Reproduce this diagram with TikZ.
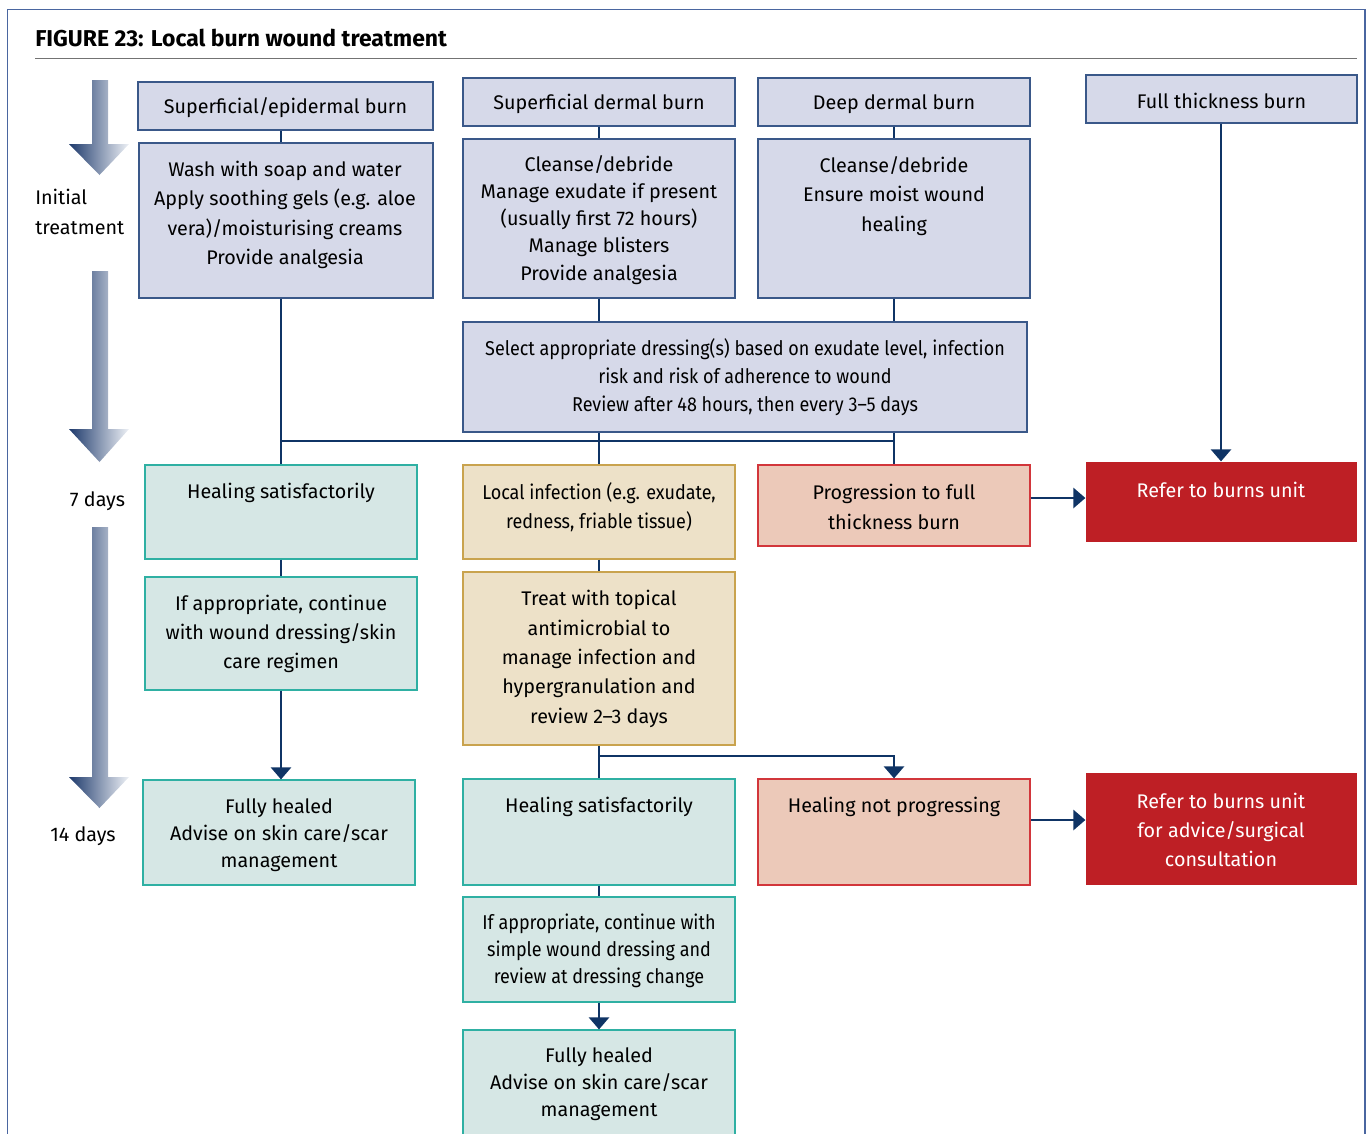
\documentclass[tikz,border=0pt]{standalone}
\usepackage{fontspec}
\setmainfont{Fira Sans}
\newfontfamily\condfont[FakeStretch=0.9]{Fira Sans}
\usetikzlibrary{fit,arrows.meta}
\definecolor{navy}{HTML}{0F3465}
\definecolor{bluefill}{HTML}{D6D9E9}
\definecolor{blueline}{HTML}{3A5889}
\definecolor{tealfill}{HTML}{D6E7E5}
\definecolor{tealline}{HTML}{2FB0A3}
\definecolor{beigefill}{HTML}{EDE1C8}
\definecolor{beigeline}{HTML}{C9A34E}
\definecolor{pinkfill}{HTML}{ECC9B9}
\definecolor{pinkline}{HTML}{D2363B}
\definecolor{redfill}{HTML}{BE1F25}
\definecolor{framecol}{HTML}{4A66A0}
\definecolor{gdark}{HTML}{1E3A6C}
\definecolor{glight}{HTML}{EEF1F6}
\tikzset{
  x=0.75pt, y=-0.75pt,
  boxbase/.style={inner sep=0pt, line width=0.9pt},
  bluebox/.style={boxbase, draw=blueline, fill=bluefill},
  tealbox/.style={boxbase, draw=tealline, fill=tealfill},
  beigebox/.style={boxbase, draw=beigeline, fill=beigefill},
  pinkbox/.style={boxbase, draw=pinkline, fill=pinkfill},
  redbox/.style={boxbase, fill=redfill},
  txt/.style={align=center, inner sep=0pt, yshift=-1.5pt, font=\fontsize{14.8}{22}\selectfont},
  ctxt/.style={align=center, inner sep=0pt, yshift=-1.5pt, font=\condfont\fontsize{15}{21}\selectfont},
  conn/.style={draw=navy, line width=1.9pt},
  arr/.style={conn, -{Triangle[width=15pt,length=9pt]}},
  bigarrow/.style={left color=gdark, right color=glight}
}
\begin{document}
\begin{tikzpicture}
\useasboundingbox (0,0) rectangle (1370,1133);
\clip (0,0) rectangle (1370,1133);
% frame
\draw[framecol, line width=0.9pt] (7.5,1140) -- (7.5,9.5) -- (1365,9.5) -- (1365,1140);
\node[anchor=base west, inner sep=0pt, font=\bfseries\fontsize{17.2}{20}\selectfont] (title) at (35,46) {FIGURE 23: Local burn wound treatment};
\coordinate (rl) at (35,58.5);
\coordinate (rr) at (1357,58.5);
\draw[black!55, line width=1.1pt] (rl) -- (rr);

% big gradient arrows
\shade[bigarrow] (92,80) -- (108,80) -- (108,144) -- (129,144) -- (99.5,175) -- (69,144) -- (92,144) -- cycle;
\shade[bigarrow] (92,271) -- (108,271) -- (108,429) -- (129,429) -- (99.5,462) -- (69,429) -- (92,429) -- cycle;
\shade[bigarrow] (92,527) -- (108,527) -- (108,777) -- (129,777) -- (99.5,808) -- (69,777) -- (92,777) -- cycle;

\node[anchor=west, align=left, inner sep=0pt, yshift=-1.5pt, font=\fontsize{14.8}{22}\selectfont] (lab1) at (35,210) {Initial\\treatment};
\node[txt] (lab2) at (97.5,499) {7 days};
\node[txt] (lab3) at (83,834) {14 days};

% column coordinates
\coordinate (c1) at (281,0);
\coordinate (c2) at (599,0);
\coordinate (c3) at (894,0);
\coordinate (c4) at (1221,0);

% top headers
\node[bluebox, fit={(138,82) (433,130)}] (h1) {};
\node[bluebox, fit={(463,78) (735,126)}] (h2) {};
\node[bluebox, fit={(758,78) (1030,126)}] (h3) {};
\node[bluebox, fit={(1086,75) (1357,123)}] (h4) {};
\node[txt] (th1) at (h1) {Superficial/epidermal burn};
\node[txt] (th2) at (h2) {Superficial dermal burn};
\node[txt] (th3) at (h3) {Deep dermal burn};
\node[txt] (th4) at (h4) {Full thickness burn};

% initial treatment bodies
\node[bluebox, fit={(139,143) (433,298)}] (b1) {};
\node[bluebox, fit={(463,139) (735,298)}] (b2) {};
\node[bluebox, fit={(758,139) (1030,298)}] (b3) {};
\node[txt] (tb1) at (285,213) {Wash with soap and water\\Apply soothing gels (e.g. aloe\\vera)/moisturising creams\\Provide analgesia};
\node[txt, font=\fontsize{14.8}{20.3}\selectfont] (tb2) at (599,218) {Cleanse/debride\\Manage exudate if present\\(usually first 72 hours)\\Manage blisters\\Provide analgesia};
\node[txt] (tb3) at (894,194) {Cleanse/debride\\Ensure moist wound\\healing};

\node[bluebox, fit={(463,322) (1027,432)}] (sel) {};
\node[ctxt] (tsel) at (745,375) {Select appropriate dressing(s) based on exudate level, infection\\risk and risk of adherence to wound\\Review after 48 hours, then every 3–5 days};

% 7 days row
\node[tealbox, fit={(145,465) (417,559)}] (hs1) {};
\node[beigebox, fit={(463,465) (735,559)}] (li) {};
\node[pinkbox, fit={(758,465) (1030,546)}] (pr) {};
\node[redbox, fit={(1086,462) (1357,542)}] (rb1) {};
\node[txt] (ths1) at (281,491) {Healing satisfactorily};
\node[ctxt, font=\condfont\fontsize{15}{22}\selectfont] (tli) at (599,505) {Local infection (e.g. exudate,\\redness, friable tissue)};
\node[txt] (tpr) at (894,505) {Progression to full\\thickness burn};
\node[txt, text=white] (trb1) at (1221,488) {Refer to burns unit};

\node[tealbox, fit={(145,577) (417,690)}] (ia1) {};
\node[beigebox, fit={(463,572) (735,745)}] (tr) {};
\node[txt] (tia1) at (281,632) {If appropriate, continue\\with wound dressing/skin\\care regimen};
\node[txt] (ttr) at (599,657) {Treat with topical\\antimicrobial to\\manage infection and\\hypergranulation and\\review 2–3 days};

% 14 days row
\node[tealbox, fit={(143,780) (415,885)}] (fh1) {};
\node[tealbox, fit={(463,779) (735,885)}] (hs2) {};
\node[pinkbox, fit={(758,779) (1030,885)}] (hnp) {};
\node[redbox, fit={(1086,773) (1357,885)}] (rb2) {};
\node[txt, font=\fontsize{14.8}{20.3}\selectfont] (tfh1) at (279,833) {Fully healed\\Advise on skin care/scar\\management};
\node[txt] (ths2) at (599,805) {Healing satisfactorily};
\node[txt] (thnp) at (894,805) {Healing not progressing};
\node[txt, text=white] (trb2) at (1221,828) {Refer to burns unit\\for advice/surgical\\consultation};

\node[tealbox, fit={(463,897) (735,1002)}] (ia2) {};
\node[tealbox, fit={(463,1030) (735,1145)}] (fh2) {};
\node[ctxt, font=\condfont\fontsize{15}{20.3}\selectfont] (tia2) at (599,949) {If appropriate, continue with\\simple wound dressing and\\review at dressing change};
\node[txt, font=\fontsize{14.8}{20.3}\selectfont] (tfh2) at (599,1082) {Fully healed\\Advise on skin care/scar\\management};

% connectors
\coordinate (yj) at (0,441);
\coordinate (ya) at (0,498);
\coordinate (yb) at (0,756);
\coordinate (yc) at (0,820);
\draw[conn] (h1.south -| c1) -- (b1.north -| c1);
\draw[conn] (b1.south -| c1) -- (hs1.north -| c1);
\draw[conn] (h2.south -| c2) -- (b2.north -| c2);
\draw[conn] (b2.south -| c2) -- (sel.north -| c2);
\draw[conn] (sel.south -| c2) -- (li.north -| c2);
\draw[conn] (h3.south -| c3) -- (b3.north -| c3);
\draw[conn] (b3.south -| c3) -- (sel.north -| c3);
\draw[conn] (sel.south -| c3) -- (pr.north -| c3);
\draw[conn] (yj -| c1) -- (yj -| c3);
\draw[arr] (h4.south -| c4) -- (rb1.north -| c4);
\draw[arr] (pr.east |- ya) -- (rb1.west |- ya);
\draw[conn] (hs1.south -| c1) -- (ia1.north -| c1);
\draw[arr] (ia1.south -| c1) -- (fh1.north -| c1);
\draw[conn] (li.south -| c2) -- (tr.north -| c2);
\draw[conn] (tr.south -| c2) -- (hs2.north -| c2);
\draw[arr] (yb -| c2) -| (hnp.north -| c3);
\draw[arr] (hnp.east |- yc) -- (rb2.west |- yc);
\draw[conn] (hs2.south -| c2) -- (ia2.north -| c2);
\draw[arr] (ia2.south -| c2) -- (fh2.north -| c2);
\end{tikzpicture}
\end{document}
